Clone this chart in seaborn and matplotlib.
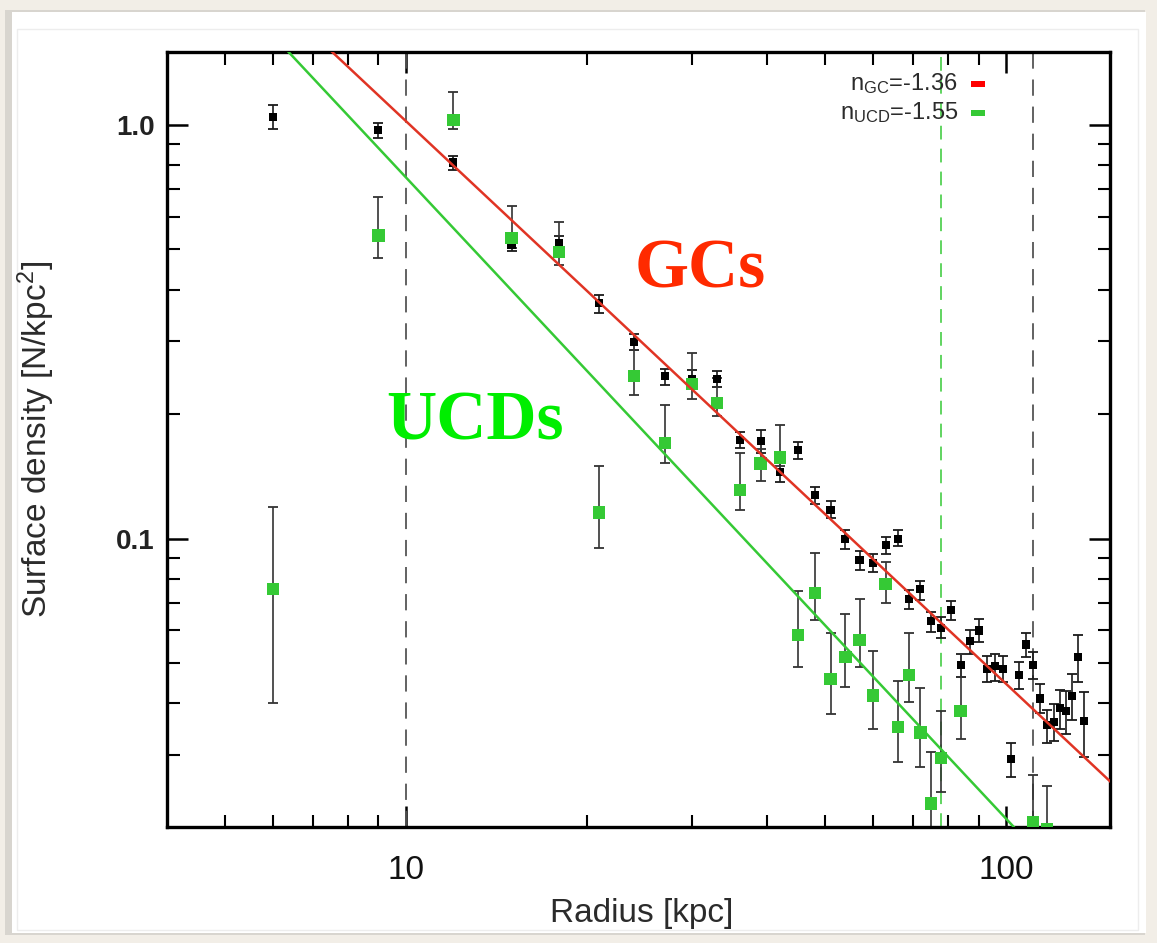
import numpy as np
import pandas as pd
import matplotlib
matplotlib.use("Agg")
import matplotlib.pyplot as plt
import seaborn as sns
from matplotlib import font_manager as fm
from matplotlib.patches import Rectangle
from matplotlib.ticker import FixedLocator, FixedFormatter, NullFormatter

# ---------------- data ----------------
gc_r = [6, 9, 12, 15, 18, 21, 24, 27, 30, 33, 36, 39, 42, 45, 48, 51, 54, 57, 60, 63,
        66, 69, 72, 75, 78, 81, 84, 87, 90, 93, 96, 99, 102, 105, 108, 111, 114, 117,
        120, 123, 126, 129, 132, 135]
gc_sd = [1.047, 0.972, 0.811, 0.514, 0.519, 0.371, 0.298, 0.247, 0.243, 0.243, 0.1735,
         0.172, 0.1446, 0.1634, 0.1272, 0.117, 0.0998, 0.0886, 0.0872, 0.0963, 0.100,
         0.0715, 0.0756, 0.0631, 0.0607, 0.0671, 0.0494, 0.0565, 0.0600, 0.0485, 0.0493,
         0.0485, 0.0294, 0.0468, 0.0555, 0.0494, 0.0411, 0.0354, 0.0360, 0.0389, 0.0383,
         0.0416, 0.0517, 0.0362]
gc_lo = [0.976, 0.929, 0.779, 0.496, 0.500, 0.352, 0.285, 0.235, 0.230, 0.233, 0.166,
         0.161, 0.137, 0.156, 0.1215, 0.112, 0.0944, 0.0839, 0.0829, 0.0917, 0.0959,
         0.0677, 0.0712, 0.0595, 0.0575, 0.0636, 0.0462, 0.0527, 0.0563, 0.0451, 0.0454,
         0.0451, 0.0266, 0.0433, 0.0517, 0.0457, 0.0378, 0.0321, 0.0324, 0.0346, 0.0337,
         0.0364, 0.0451, 0.0297]
gc_hi = [1.118, 1.013, 0.841, 0.537, 0.539, 0.389, 0.312, 0.257, 0.256, 0.254, 0.181,
         0.183, 0.153, 0.171, 0.133, 0.123, 0.1047, 0.0936, 0.0917, 0.1007, 0.1047,
         0.0752, 0.0792, 0.0666, 0.0645, 0.0706, 0.0527, 0.0601, 0.0641, 0.0520, 0.0526,
         0.0520, 0.0321, 0.0503, 0.0593, 0.0532, 0.0446, 0.0386, 0.0399, 0.0430, 0.0428,
         0.0470, 0.0584, 0.0425]

ucd_r = [6, 9, 12, 15, 18, 21, 24, 27, 30, 33, 36, 39, 42, 45, 48, 51, 54, 57, 60, 63,
         66, 69, 72, 75, 78, 84, 111, 117]
ucd_sd = [0.0757, 0.540, 1.028, 0.533, 0.493, 0.1156, 0.247, 0.170, 0.236, 0.213, 0.1313,
          0.152, 0.157, 0.0584, 0.0738, 0.0458, 0.0517, 0.0570, 0.0418, 0.0778, 0.0350,
          0.0468, 0.0340, 0.0229, 0.0295, 0.0383, 0.0206, 0.0199]
ucd_lo = [0.040, 0.478, 0.978, 0.505, 0.459, 0.095, 0.223, 0.152, 0.217, 0.198, 0.1176,
          0.138, 0.150, 0.0489, 0.0636, 0.0376, 0.0437, 0.0489, 0.0346, 0.0699, 0.0289,
          0.0404, 0.0281, 0.0150, 0.0244, 0.0328, 0.0120, 0.0120]
ucd_hi = [0.119, 0.668, 1.199, 0.637, 0.581, 0.150, 0.285, 0.210, 0.281, 0.244, 0.161,
          0.165, 0.188, 0.0748, 0.0921, 0.0591, 0.0659, 0.0714, 0.0535, 0.088, 0.0454,
          0.0590, 0.0436, 0.0305, 0.0383, 0.0527, 0.0268, 0.0253]

fit_n_gc, fit_a_gc = -1.36, 23.4
fit_n_ucd, fit_a_ucd = -1.55, 26.5
fit_r = [4.0, 150.0]

cut_radii_black = [10, 111]
cut_radii_green = [78]

x_major = [10, 100]
x_major_labels = ["10", "100"]
x_minor = [5, 6, 7, 8, 9, 20, 30, 40, 50, 60, 70, 80, 90]
y_major = [0.1, 1.0]
y_major_labels = ["0.1", "1.0"]
y_minor = [0.03, 0.04, 0.05, 0.06, 0.07, 0.08, 0.09, 0.2, 0.3, 0.4, 0.5, 0.6, 0.7, 0.8, 0.9]

legend_labels = [r"n$_{\mathregular{GC}}$=-1.36", r"n$_{\mathregular{UCD}}$=-1.55"]

# ---------------- style ----------------
sns.set_theme(style="white")
available = {f.name for f in fm.fontManager.ttflist}
narrow = "Liberation Sans Narrow" if "Liberation Sans Narrow" in available else "Liberation Sans"
plt.rcParams["font.family"] = [narrow, "DejaVu Sans"]
plt.rcParams["mathtext.default"] = "regular"

RED_LINE = "#E03424"
GREEN = "#35C935"
GC_TXT = "#FF2A00"
UCD_TXT = "#00EE00"
GRAY_TXT = "#2b2b2b"

W, H = 1157, 943
fig = plt.figure(figsize=(W / 100, H / 100), dpi=100)
fig.patch.set_facecolor("#F2EEE7")
fig.add_artist(Rectangle((5 / W, 8 / H), 1140 / W, 925 / H, transform=fig.transFigure,
                         facecolor="#D8D5CF", edgecolor="none", zorder=-3))
fig.add_artist(Rectangle((12 / W, 10 / H), 1134 / W, 921 / H, transform=fig.transFigure,
                         facecolor="white", edgecolor="none", zorder=-2))
fig.add_artist(Rectangle((17 / W, 13 / H), 1121 / W, 901 / H, transform=fig.transFigure,
                         facecolor="none", edgecolor="#EDEDED", lw=1, zorder=-1))

ax = fig.add_axes([167 / W, 1 - 827 / H, 943 / W, 775 / H])
ax.set_facecolor("none")
ax.set_xscale("log")
ax.set_yscale("log")

# dashed cut lines
for r in cut_radii_black:
    ax.axvline(r, color="#555555", lw=1.3, ls=(0, (9, 6)), zorder=1)
for r in cut_radii_green:
    ax.axvline(r, color=GREEN, lw=1.1, ls=(0, (9, 6)), zorder=1)

# error bars
gc_sd_a = np.array(gc_sd)
ax.errorbar(gc_r, gc_sd, yerr=[gc_sd_a - np.array(gc_lo), np.array(gc_hi) - gc_sd_a],
            fmt="none", ecolor="#1a1a1a", elinewidth=1.2, capsize=3.5, capthick=1.3, zorder=2)
ucd_sd_a = np.array(ucd_sd)
ax.errorbar(ucd_r, ucd_sd, yerr=[ucd_sd_a - np.array(ucd_lo), np.array(ucd_hi) - ucd_sd_a],
            fmt="none", ecolor="#333333", elinewidth=1.2, capsize=3.5, capthick=1.3, zorder=2)

gc_df = pd.DataFrame({"r": gc_r, "sd": gc_sd})
ucd_df = pd.DataFrame({"r": ucd_r, "sd": ucd_sd})
sns.scatterplot(data=gc_df, x="r", y="sd", marker="s", s=34, color="black",
                edgecolor="none", linewidth=0, ax=ax, zorder=3)
sns.scatterplot(data=ucd_df, x="r", y="sd", marker="s", s=78, color=GREEN,
                edgecolor="none", linewidth=0, ax=ax, zorder=3.5)

# fit lines
fit_r_a = np.array(fit_r)
fit_df = pd.DataFrame({
    "r": np.concatenate([fit_r_a, fit_r_a]),
    "sd": np.concatenate([fit_a_gc * fit_r_a ** fit_n_gc, fit_a_ucd * fit_r_a ** fit_n_ucd]),
    "pop": ["GC"] * len(fit_r) + ["UCD"] * len(fit_r),
})
sns.lineplot(data=fit_df, x="r", y="sd", hue="pop", palette={"GC": RED_LINE, "UCD": GREEN},
             lw=1.8, legend=False, ax=ax, zorder=4)

ax.set_xscale("log")
ax.set_yscale("log")
ax.set_xlim(4.0, 149.0)
ax.set_ylim(0.0201, 1.5)

# ticks
ax.xaxis.set_major_locator(FixedLocator(x_major))
ax.xaxis.set_major_formatter(FixedFormatter(x_major_labels))
ax.xaxis.set_minor_locator(FixedLocator(x_minor))
ax.xaxis.set_minor_formatter(NullFormatter())
ax.yaxis.set_major_locator(FixedLocator(y_major))
ax.yaxis.set_major_formatter(FixedFormatter(y_major_labels))
ax.yaxis.set_minor_locator(FixedLocator(y_minor))
ax.yaxis.set_minor_formatter(NullFormatter())
ax.tick_params(which="both", direction="in", top=True, right=True, bottom=True, left=True,
               color="black")
ax.tick_params(which="major", length=15, width=1.8)
ax.tick_params(which="minor", length=9, width=1.5)
ax.tick_params(axis="x", which="major", pad=20, labelsize=24, labelcolor="#111111")
ax.tick_params(axis="y", which="major", pad=9, labelsize=20, labelcolor="#222222")
for lab in ax.get_yticklabels():
    lab.set_fontfamily(["Liberation Sans", "DejaVu Sans"])
    lab.set_fontweight("bold")
for sp in ax.spines.values():
    sp.set_color("black")
    sp.set_linewidth(2.4)

ax.set_xlabel("Radius [kpc]", fontsize=24, color=GRAY_TXT)
ax.set_ylabel(r"Surface density [N/kpc$^{\mathregular{2}}$]", fontsize=24, color=GRAY_TXT)
ax.xaxis.set_label_coords(0.503, -0.092)
ax.yaxis.set_label_coords(-0.117, 0.5)

# big labels
ax.text(0.566, 0.6955, "GCs", transform=ax.transAxes, ha="center", va="baseline",
        fontsize=50, fontweight="bold", color=GC_TXT,
        family=["Liberation Serif", "DejaVu Serif"])
ax.text(0.3266, 0.4994, "UCDs", transform=ax.transAxes, ha="center", va="baseline",
        fontsize=50, fontweight="bold", color=UCD_TXT,
        family=["Liberation Serif", "DejaVu Serif"])

# legend-like annotation
for lab, col, yc in zip(legend_labels, ["#FF0000", GREEN], [0.9587, 0.9213]):
    ax.text(0.8388, yc, lab, transform=ax.transAxes, ha="right", va="center",
            fontsize=17, color=GRAY_TXT)
    ax.add_patch(Rectangle((0.8526, yc - 0.0045), 0.0149, 0.009, transform=ax.transAxes,
                           facecolor=col, edgecolor="none", zorder=6))

fig.savefig("out.png", dpi=100, facecolor=fig.get_facecolor())
